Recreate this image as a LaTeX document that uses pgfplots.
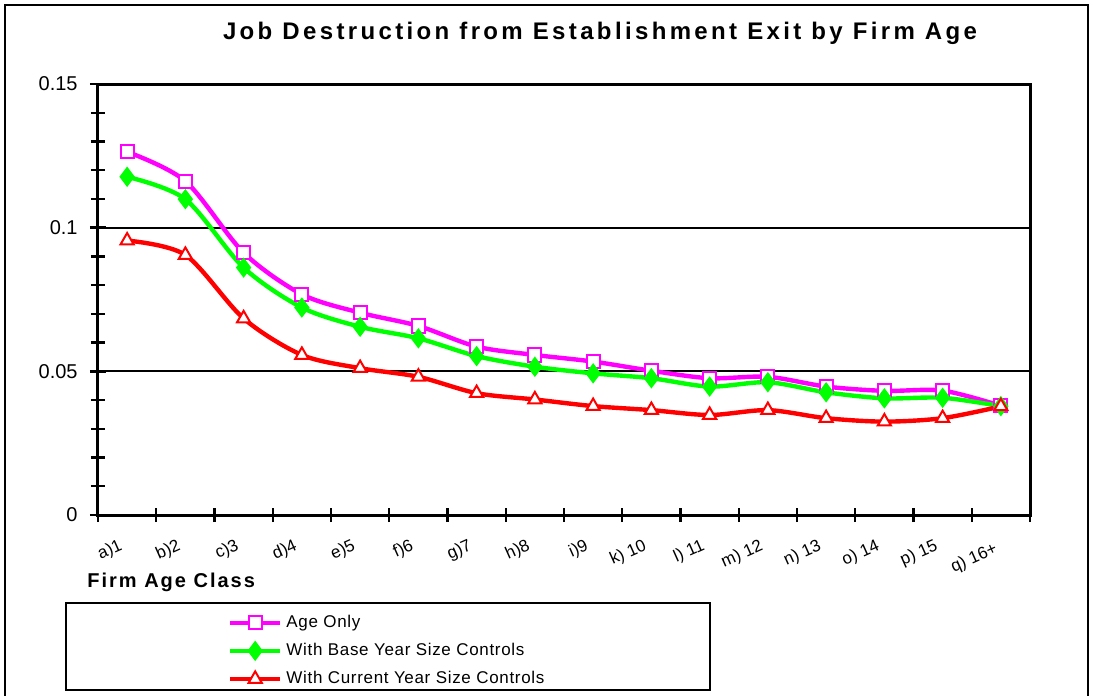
\documentclass[border=0pt]{standalone}
\usepackage{pgfplots}
\pgfplotsset{compat=1.18}
\usepackage{fontspec}
\setmainfont{Liberation Sans}
\newfontfamily\spacedA[LetterSpace=14]{Liberation Sans}
\newfontfamily\spacedB[LetterSpace=4]{Liberation Sans}
\newfontfamily\spacedC[LetterSpace=10]{Liberation Sans}
\definecolor{mag}{RGB}{255,0,255}
\definecolor{grn}{RGB}{0,255,0}
\definecolor{rd}{RGB}{255,0,0}
\begin{document}
\begin{tikzpicture}
\path[use as bounding box] (0,0) rectangle (547pt,-348pt);
\begin{scope}[x=0.5pt,y=-0.5pt]
\draw[line width=1.3pt] (5,720) -- (5,5) -- (1088,5) -- (1088,720);
\node[font=\spacedA\bfseries\fontsize{12}{14}\selectfont, inner sep=0] at (600,33) {Job Destruction from Establishment Exit by Firm Age};
\node[font=\spacedC\bfseries\fontsize{10}{12}\selectfont, anchor=base west, inner sep=0] at (87,587) {Firm Age Class};
\draw[line width=1.2pt] (66,603) rectangle (710,690);
\end{scope}
\begin{axis}[
  at={(49pt,-257.5pt)}, anchor=south west,
  scale only axis, width=466pt, height=215.5pt,
  xmin=0.5, xmax=16.5, ymin=0, ymax=0.15,
  xtick={1,...,16},
  xticklabels={{a)1},{b)2},{c)3},{d)4},{e)5},{f)6},{g)7},{h)8},{i)9},{k) 10},{l) 11},{m) 12},{n) 13},{o) 14},{p) 15},{\raisebox{-4pt}[0pt][0pt]{q) 16+}}},
  minor xtick={0.5,1.5,...,16.5},
  major x tick style={draw=none},
  ytick={0,0.05,0.1,0.15},
  yticklabels={0,0.05,0.1,0.15},
  scaled y ticks=false,
  minor ytick={0.01,0.02,0.03,0.04,0.06,0.07,0.08,0.09,0.11,0.12,0.13,0.14},
  tick pos=left, tick align=center,
  major tick length=8pt, minor tick length=7pt,
  tick style={black, line width=1.2pt},
  axis line style={line width=1.5pt},
  ymajorgrids, major grid style={black, line width=1pt},
  yticklabel style={font=\fontsize{10}{12}\selectfont, anchor=east, inner sep=0pt, xshift=-6pt},
  xticklabel style={font=\fontsize{8.5}{10}\selectfont, rotate=24, anchor=east, inner sep=0pt, xshift=-7pt, yshift=-9pt},
  clip=false,
  legend style={at={(0.139,-0.222)}, anchor=north west, draw=none, fill=none,
    font=\spacedB\fontsize{8.5}{10}\selectfont, row sep=2.4pt, inner sep=0pt},
  legend cell align=left,
  legend image code/.code={\draw[mark repeat=2,mark phase=2] plot coordinates {(0cm,0cm) (0.44cm,0cm) (0.88cm,0cm)};},
]
\addplot[mag, line width=2.2pt, smooth, tension=0.5, mark=square*, mark size=3.3pt, mark options={solid, fill=white, draw=mag, line width=1pt}]
coordinates {(1,0.1264) (2,0.1162) (3,0.0913) (4,0.0768) (5,0.0704) (6,0.0658) (7,0.0586) (8,0.0557) (9,0.0534) (10,0.0502) (11,0.0476) (12,0.0481) (13,0.0447) (14,0.0432) (15,0.0433) (16,0.0380)};
\addlegendentry{Age Only}
\addplot[grn, line width=2.2pt, smooth, tension=0.5, mark=diamond*, mark size=3.3pt, mark options={solid, fill=grn, draw=grn}]
coordinates {(1,0.1177) (2,0.1099) (3,0.0861) (4,0.0722) (5,0.0655) (6,0.0615) (7,0.0553) (8,0.0516) (9,0.0493) (10,0.0476) (11,0.0447) (12,0.0462) (13,0.0427) (14,0.0406) (15,0.0408) (16,0.0379)};
\addlegendentry{With Base Year Size Controls}
\addplot[rd, line width=2.2pt, smooth, tension=0.5, mark=triangle*, mark size=3.8pt, mark options={solid, fill=white, draw=rd, line width=1pt}]
coordinates {(1,0.0955) (2,0.0905) (3,0.0684) (4,0.0557) (5,0.0511) (6,0.0481) (7,0.0424) (8,0.0402) (9,0.0379) (10,0.0365) (11,0.0348) (12,0.0365) (13,0.0337) (14,0.0325) (15,0.0337) (16,0.0378)};
\addlegendentry{With Current Year Size Controls}
\end{axis}
\end{tikzpicture}
\end{document}
